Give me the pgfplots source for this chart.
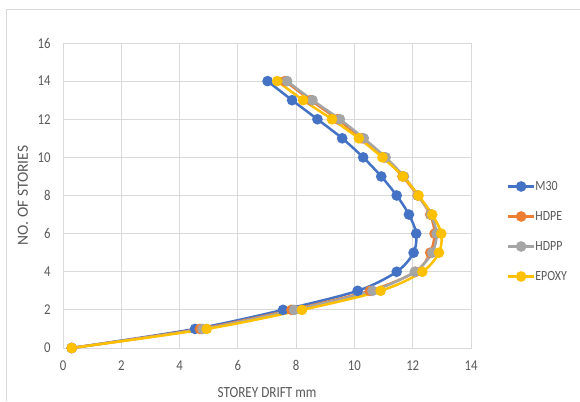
\documentclass[border=0pt]{standalone}
\usepackage{fontspec}
\setmainfont{Carlito}[FakeStretch=0.85]
\newfontfamily\ylabfont{Carlito}
\usepackage{pgfplots}
\pgfplotsset{compat=1.18}
\definecolor{cM}{HTML}{4472C4}
\definecolor{cE}{HTML}{ED7D31}
\definecolor{cP}{HTML}{A5A5A5}
\definecolor{cY}{HTML}{FFC000}
\definecolor{txt}{HTML}{595959}
\definecolor{grd}{HTML}{D9D9D9}
\begin{document}
\begin{tikzpicture}[x=1pt,y=1pt]
\useasboundingbox (0,0) rectangle (580,401);
\draw[grd, line width=0.8pt] (6,0) -- (6,392) -- (580,392);
\begin{axis}[
  at={(63pt,53pt)}, anchor=south west,
  scale only axis, width=408pt, height=305pt,
  xmin=0, xmax=14, ymin=0, ymax=16,
  xtick={0,2,...,14}, ytick={0,2,...,16},
  grid=major, major grid style={grd, line width=0.9pt},
  axis line style={grd, line width=0.9pt},
  tick style={draw=none},
  /pgf/number format/assume math mode=true,
  tick label style={font=\fontsize{15}{17}\selectfont, text=txt},
  xticklabel style={yshift=-9pt},
  yticklabel style={xshift=-9pt},
  xlabel={STOREY DRIFT mm},
  ylabel={\ylabfont NO. OF STORIES},
  label style={font=\fontsize{15.5}{17}\selectfont, text=txt},
  xlabel style={at={(axis description cs:0.5,0)}, anchor=base, yshift=-49pt},
  ylabel style={at={(axis description cs:0,0.5)}, anchor=center, yshift=40pt},
  every axis plot/.append style={line width=2.5pt, smooth, tension=0.5, mark=*, mark size=4pt},
  legend style={at={(1.0875,0.382)}, anchor=west, draw=none, fill=none,
    font=\fontsize{14}{16}\selectfont, text=txt,
    row sep=20pt, inner sep=0pt,
    nodes={inner sep=0pt, text height=9pt, text depth=1pt, anchor=west}},
  legend cell align=left,
  legend image code/.code={\draw[mark repeat=2, mark phase=2, #1] plot coordinates {(0pt,0pt) (13pt,0pt) (26pt,0pt)};},
]
\addplot[cM, mark options={fill=cM, draw=cM}] coordinates {
(0.3,0) (4.53,1) (7.55,2) (10.11,3) (11.45,4) (12.03,5) (12.12,6) (11.87,7) (11.45,8) (10.92,9) (10.30,10) (9.58,11) (8.73,12) (7.86,13) (7.02,14)};
\addlegendentry{M30}
\addplot[cE, mark options={fill=cE, draw=cE}] coordinates {
(0.3,0) (4.70,1) (7.84,2) (10.53,3) (12.10,4) (12.60,5) (12.75,6) (12.60,7) (12.17,8) (11.65,9) (11.02,10) (10.25,11) (9.42,12) (8.50,13) (7.62,14)};
\addlegendentry{HDPE}
\addplot[cP, mark options={fill=cP, draw=cP}] coordinates {
(0.3,0) (4.79,1) (7.93,2) (10.62,3) (12.07,4) (12.67,5) (12.82,6) (12.62,7) (12.18,8) (11.70,9) (11.07,10) (10.32,11) (9.50,12) (8.56,13) (7.69,14)};
\addlegendentry{HDPP}
\addplot[cY, mark options={fill=cY, draw=cY}] coordinates {
(0.3,0) (4.93,1) (8.20,2) (10.90,3) (12.33,4) (12.90,5) (12.98,6) (12.67,7) (12.20,8) (11.67,9) (10.96,10) (10.15,11) (9.23,12) (8.24,13) (7.35,14)};
\addlegendentry{EPOXY}
\end{axis}
\end{tikzpicture}
\end{document}
